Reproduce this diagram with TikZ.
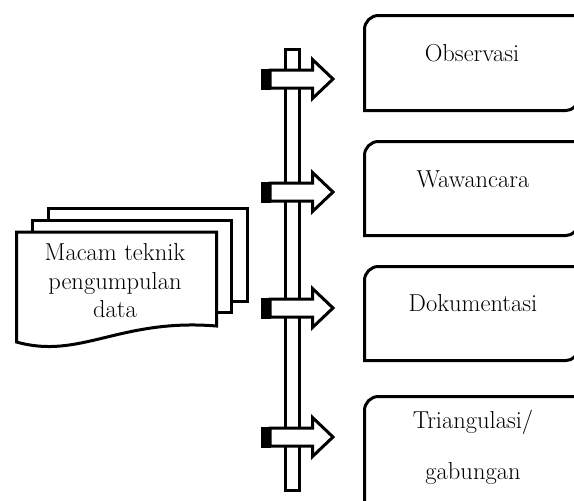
\documentclass[tikz,border=0pt]{standalone}
\begin{document}
\begin{tikzpicture}[x=1pt,y=-1pt,
  thick line/.style={line width=3pt, line join=miter},
  sheet/.style={thick line, fill=white},
  lbl/.style={font=\fontsize{24.5}{28.5}\selectfont, align=center, inner sep=0pt},
  arrowbody/.style={thick line, fill=white},
  arrowfold/.style={fill=black}]
\useasboundingbox (0,0) rectangle (574,501);
\clip (0,0) rectangle (574,501);

% multi-document
\draw[sheet] (48.5,208.5) rectangle (247,301.5);
\draw[sheet] (32.5,220) rectangle (231.5,312.5);
\draw[sheet] (16.5,232) -- (216.5,232) -- (216.5,326)
   .. controls (120,318) and (80,360) .. (16.5,342) -- cycle;
\node[lbl] (doc) at (115,281) {Macam teknik\\pengumpulan\\data};

% vertical bar
\draw[sheet] (285.5,49.5) rectangle (299.5,490.5);

% block arrows
\foreach \c/\n in {79/a,192/b,308/c,437/d}{
  \fill[arrowfold] (261,\c-10.5) rectangle (271,\c+10.5);
  \draw[arrowbody] (270,\c-9) -- (312.5,\c-9) -- (312.5,\c-19.5) -- (333,\c)
     -- (312.5,\c+19.5) -- (312.5,\c+9) -- (270,\c+9) -- cycle;
  \coordinate (arrow\n) at (333,\c);
}

% boxes
\foreach \t/\b in {15.5/110.5,141.5/235.5,266.5/360.5}{
  \draw[thick line] (364.5,\b) -- (364.5,\t+14)
     .. controls (364.5,\t+6.3) and (370.8,\t) .. (378.5,\t)
     -- (578,\t) -- (578,\b-12)
     .. controls (578,\b-5.4) and (572.6,\b) .. (566,\b) -- cycle;
}
\draw[thick line] (364.5,520) -- (364.5,410.5)
   .. controls (364.5,402.8) and (370.8,396.5) .. (378.5,396.5) -- (600,396.5);

\node[lbl] (obs) at (472,53) {Observasi};
\node[lbl] (waw) at (473,179) {Wawancara};
\node[lbl] (dok) at (473,303) {Dokumentasi};
\node[lbl] (tri) at (473,422) {Triangulasi/};
\node[lbl] (gab) at (473,473) {gabungan};
\end{tikzpicture}
\end{document}
